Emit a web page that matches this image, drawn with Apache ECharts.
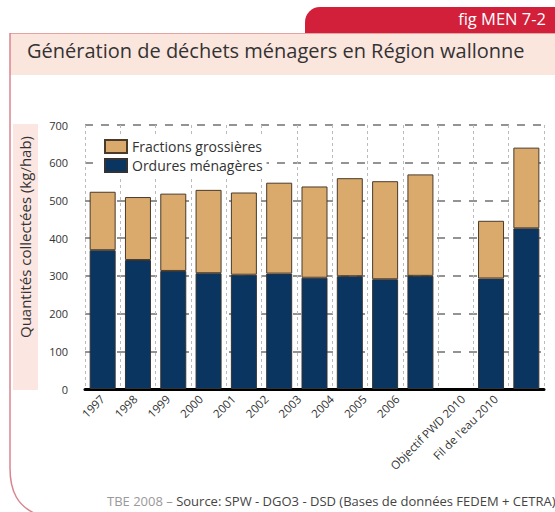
<!DOCTYPE html>
<html>
<head>
<meta charset="utf-8">
<script src="https://cdn.jsdelivr.net/npm/echarts@6/dist/echarts.min.js"></script>
<style>
  html, body { margin: 0; padding: 0; background: #fff; }
  #chart { width: 555px; height: 512px; }
</style>
</head>
<body>
<div id="chart"></div>
<script>
// categories (an empty slot separates observed years from 2010 projections)
const categories = ['1997', '1998', '1999', '2000', '2001', '2002', '2003', '2004', '2005', '2006', '', 'Objectif PWD 2010', "Fil de l'eau 2010"]
// kg/hab
const ordures = [368, 342, 313, 307, 303, 306, 295, 299, 291, 300, '-', 293, 426]
const fractions = [155, 167, 205, 221, 218, 241, 242, 260, 260, 269, '-', 153, 214]
const yTicks = [0, 100, 200, 300, 400, 500, 600, 700]

const font = '"Open Sans", "Noto Sans", sans-serif'
const navy = '#0a3561'
const tan = '#d9aa6b'

const chart = echarts.init(document.getElementById('chart'), null, { renderer: 'svg' })

const option = {
  backgroundColor: '#fff',
  textStyle: { fontFamily: font },
  animation: false,
  graphic: [
    // red tab
    { type: 'rect', shape: { x: 305, y: 7, width: 260, height: 27, r: [15, 0, 0, 0] }, style: { fill: '#d21f3a' }, z: 1 },
    { type: 'text', right: 9, top: 10, style: { text: 'fig MEN 7-2', fill: '#fff', font: '16.5px ' + font }, z: 2 },
    // title band
    { type: 'rect', shape: { x: 10, y: 33, width: 545, height: 42 }, style: { fill: '#fbe6de' }, z: 1 },
    { type: 'line', shape: { x1: 10, y1: 33.5, x2: 555, y2: 33.5 }, style: { stroke: '#e3a3a3', lineWidth: 1 }, z: 2 },
    { type: 'text', left: 27, top: 40, style: { text: 'Génération de déchets ménagers en Région wallonne', fill: '#333', font: '20px ' + font }, z: 2 },
    // left frame with rounded bottom
    { type: 'line', shape: { x1: 10, y1: 33, x2: 10, y2: 468 }, style: { stroke: '#d9848f', lineWidth: 1.5 }, z: 2 },
    { type: 'bezierCurve', shape: { x1: 10, y1: 468, cpx1: 10, cpy1: 492, cpx2: 18, cpy2: 506, x2: 36, y2: 514 }, style: { fill: null, stroke: '#d9848f', lineWidth: 1.5 }, z: 2 },
    // pink band behind the y axis title
    { type: 'rect', shape: { x: 13, y: 124, width: 25, height: 266 }, style: { fill: '#fce6e2' }, z: 0 },
    {
      type: 'text', x: 25, y: 237, rotation: Math.PI / 2,
      style: { text: 'Quantités collectées (kg/hab)', fill: '#333', font: '15px ' + font, align: 'center', verticalAlign: 'middle' },
      z: 2
    },
    // footer
    {
      type: 'text', left: 107, top: 494,
      style: {
        text: '{a|TBE 2008 – }{b|Source: SPW - DGO3 - DSD (Bases de données FEDEM + CETRA)}',
        rich: {
          a: { fill: '#999', font: '13px ' + font },
          b: { fill: '#444', font: '13px ' + font }
        }
      },
      z: 2
    }
  ],
  legend: {
    orient: 'vertical',
    left: 100,
    top: 136,
    data: ['Fractions grossières', 'Ordures ménagères'],
    icon: 'rect',
    itemWidth: 22,
    itemHeight: 13,
    itemGap: 4,
    backgroundColor: '#fff',
    padding: [3, 4],
    textStyle: { fontSize: 14, color: '#333', fontFamily: font }
  },
  grid: [
    { left: 85, right: 11, top: 125, bottom: 123 },
    // label strip: the original's tick labels are spaced a little tighter than the bars
    { left: 86, right: 43, top: 125, bottom: 123 }
  ],
  xAxis: [
    {
      type: 'category',
      data: categories,
      axisLine: { lineStyle: { color: '#000', width: 3 } },
      axisTick: { show: false },
      axisLabel: { show: false },
      splitLine: { show: true, interval: 0, lineStyle: { color: '#bbb', type: [3, 3], width: 1 } }
    },
    {
      type: 'category',
      gridIndex: 1,
      data: categories,
      axisLine: { show: false },
      axisTick: { show: false },
      axisLabel: { rotate: 45, interval: 0, fontSize: 11.5, color: '#333', margin: 8 },
      splitLine: { show: false }
    }
  ],
  yAxis: [
    {
      type: 'value',
      min: yTicks[0],
      max: yTicks[yTicks.length - 1],
      interval: 100,
      axisLine: { show: false },
      axisTick: { show: false },
      axisLabel: { fontSize: 11, color: '#333', margin: 17 },
      splitLine: { lineStyle: { color: '#707070', type: [8, 8], width: 1.5 } }
    },
    { type: 'value', gridIndex: 1, show: false, min: 0, max: 700, splitLine: { show: false } }
  ],
  series: [
    {
      name: 'Ordures ménagères',
      type: 'bar',
      stack: 'total',
      barWidth: 26,
      data: ordures,
      itemStyle: { color: navy, borderColor: '#333', borderWidth: 1 }
    },
    {
      name: 'Fractions grossières',
      type: 'bar',
      stack: 'total',
      barWidth: 26,
      data: fractions,
      itemStyle: { color: tan, borderColor: '#4a3a2a', borderWidth: 1 }
    }
  ]
}

chart.setOption(option)
</script>
</body>
</html>
